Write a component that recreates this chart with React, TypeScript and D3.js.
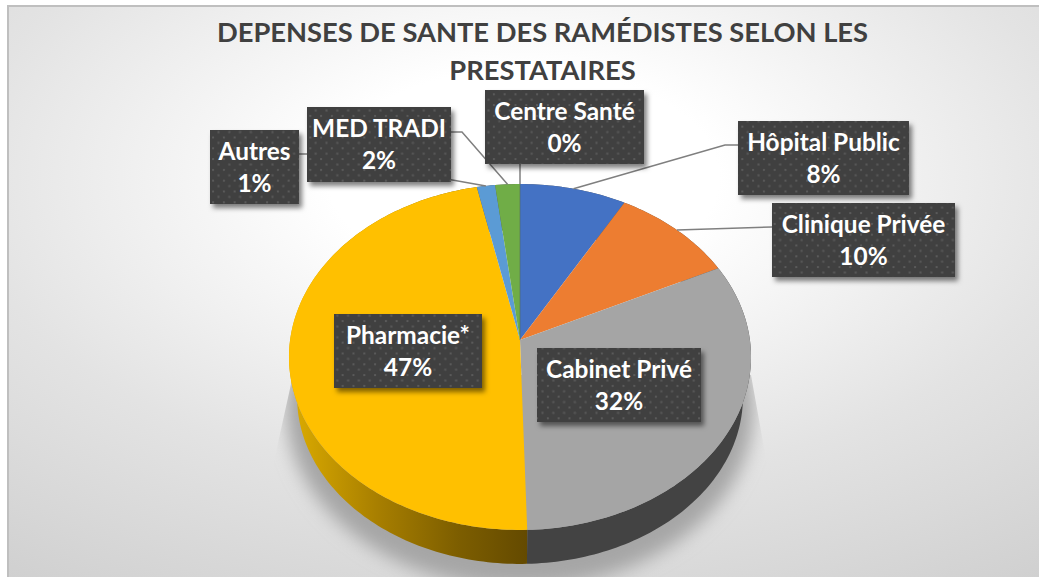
import React from "react";
import * as d3 from "d3";

const categories = ["Hôpital Public", "Clinique Privée", "Cabinet Privé", "Pharmacie*", "Autres", "MED TRADI", "Centre Santé"];
const values = [8.2, 9.6, 31.75, 47.15, 1.4, 1.9, 0];
const percentLabels = ["8%", "10%", "32%", "47%", "1%", "2%", "0%"];
const colors = ["#4472C4", "#ED7D31", "#A5A5A5", "#FFC000", "#5B9BD5", "#70AD47", "#264478"];
const titleLines = ["DEPENSES DE SANTE DES RAMÉDISTES SELON LES", "PRESTATAIRES"];

// label boxes: left, top, right, bottom
const boxes: number[][] = [
  [738, 121, 909, 195],
  [772, 203, 955, 277],
  [537, 348, 701, 422],
  [334, 314, 482, 388],
  [210, 130, 299, 204],
  [307, 107, 451, 182],
  [485, 90, 644, 164],
];
// leader line points leaving the box, the last point is computed on the rim
const leaders: (number[][] | null)[] = [
  [[738, 145], [725, 145]],
  [[772, 227]],
  null,
  null,
  [[299, 154], [307, 154]],
  [[451, 132], [462, 132]],
  [[520, 164]],
];

const W = 1039, H = 577;
const apexX = 520, apexY = 340;
const A = 229.9, B = 171.3, P = 0.0982;
const drop = 40.6, shrink = 0.965;

const project = (t: number): [number, number] => {
  const u = Math.sin(t), v = -Math.cos(t), w = 1 - P * v;
  return [apexX + (A * u) / w, apexY + (B * v) / w];
};
const projectLow = (t: number): [number, number] => {
  const [x, y] = project(t);
  return [apexX + (x - apexX) * shrink, apexY + drop + (y - apexY) * shrink];
};
const samples = (a: number, b: number) => {
  const n = Math.max(2, Math.ceil((b - a) / 0.02));
  return d3.range(n + 1).map((i) => a + ((b - a) * i) / n);
};
const line = d3.line<[number, number]>();
const arcs = d3.pie<number>().sort(null).value((d) => d)(values);

export default function App() {
  const font = "Lato, 'Open Sans', sans-serif";
  const rimAll = samples(0, Math.PI * 2);
  return (
    <svg width={W} height={H} viewBox={`0 0 ${W} ${H}`} style={{ position: "absolute", left: 0, top: 0, display: "block" }}>
      <defs>
        <radialGradient id="bg" cx="0.5" cy="0.3" r="0.86" gradientUnits="objectBoundingBox">
          <stop offset="0.22" stopColor="#ffffff" />
          <stop offset="0.44" stopColor="#f0f0f0" />
          <stop offset="0.63" stopColor="#e3e3e3" />
          <stop offset="1" stopColor="#d0d0d0" />
        </radialGradient>
        <linearGradient id="yellowSide" gradientUnits="userSpaceOnUse" x1="296" x2="527" y1="0" y2="0">
          <stop offset="0" stopColor="#d9a900" />
          <stop offset="0.35" stopColor="#a87f00" />
          <stop offset="0.7" stopColor="#7d5e00" />
          <stop offset="1" stopColor="#644a00" />
        </linearGradient>
        <pattern id="dots" width="10.8" height="10.8" patternUnits="userSpaceOnUse">
          <rect width="10.8" height="10.8" fill="#404040" />
          <rect x="1.5" y="1.5" width="2" height="2" fill="#5a5a5a" />
          <rect x="6.9" y="6.9" width="2" height="2" fill="#5a5a5a" />
        </pattern>
        <filter id="boxShadow" x="-20%" y="-20%" width="140%" height="150%">
          <feDropShadow dx="3" dy="4" stdDeviation="2.5" floodColor="#000" floodOpacity="0.5" />
        </filter>
        <filter id="groundBlur" x="-20%" y="-20%" width="140%" height="140%">
          <feGaussianBlur stdDeviation="9" />
        </filter>
        <clipPath id="panel">
          <rect x="8" y="6" width={W - 8} height={H - 6} />
        </clipPath>
        <clipPath id="groundClip">
          <path d="M293,375 L751,375 L768,470 L800,577 L240,577 L272,470 Z" />
        </clipPath>
      </defs>

      <rect x="8" y="6" width={W - 8} height={H - 6} fill="url(#bg)" />
      <path d={`M8,${H} V6 H${W}`} fill="none" stroke="#bfbfbf" strokeWidth="2" />

      <g clipPath="url(#panel)">
        <g clipPath="url(#groundClip)">
          <path
            d={line(rimAll.map((t) => {
              const [x, y] = projectLow(t);
              return [apexX + (x - apexX) * 1.05, apexY + 6 + (y - apexY) * 1.08] as [number, number];
            }))! + "Z"}
            fill="#a6a6a6"
            filter="url(#groundBlur)"
          />
        </g>

        {arcs.map((a, i) => {
          const ts = samples(a.startAngle, a.endAngle);
          const pts = [...ts.map(project), ...ts.slice().reverse().map(projectLow)];
          const side = i === 3 ? "url(#yellowSide)" : i === 2 ? "#434343" : "#555";
          return a.endAngle > a.startAngle ? <path key={"s" + i} d={line(pts)! + "Z"} fill={side} /> : null;
        })}

        {arcs.map((a, i) => {
          const ts = samples(a.startAngle, a.endAngle);
          const pts: [number, number][] = [[apexX, apexY], ...ts.map(project)];
          return a.endAngle > a.startAngle ? <path key={"t" + i} d={line(pts)! + "Z"} fill={colors[i]} /> : null;
        })}
        <line x1={apexX} y1={apexY} x2={apexX} y2={project(0)[1]} stroke="#556b55" strokeWidth="0.8" opacity="0.7" />

        {leaders.map((pts, i) => {
          if (!pts) return null;
          const a = arcs[i];
          const all: [number, number][] = [...(pts as [number, number][]), project((a.startAngle + a.endAngle) / 2)];
          return <path key={"l" + i} d={line(all)!} fill="none" stroke="#7f7f7f" strokeWidth="1.5" />;
        })}
      </g>

      <g fontFamily={font} fontWeight="700" fill="#404040" fontSize="27.3" textAnchor="middle">
        {titleLines.map((t, i) => (
          <text key={t} x={542.5} y={42 + i * 38}>{t}</text>
        ))}
      </g>

      {categories.map((c, i) => {
        const [l, t, r, b] = boxes[i];
        return (
          <g key={c}>
            <rect x={l} y={t} width={r - l} height={b - t} fill="url(#dots)" filter="url(#boxShadow)" />
            <g fontFamily={font} fontWeight="700" fill="#ffffff" fontSize="24.4" textAnchor="middle">
              <text x={(l + r) / 2} y={t + 30}>{c}</text>
              <text x={(l + r) / 2} y={t + 62}>{percentLabels[i]}</text>
            </g>
          </g>
        );
      })}
    </svg>
  );
}
